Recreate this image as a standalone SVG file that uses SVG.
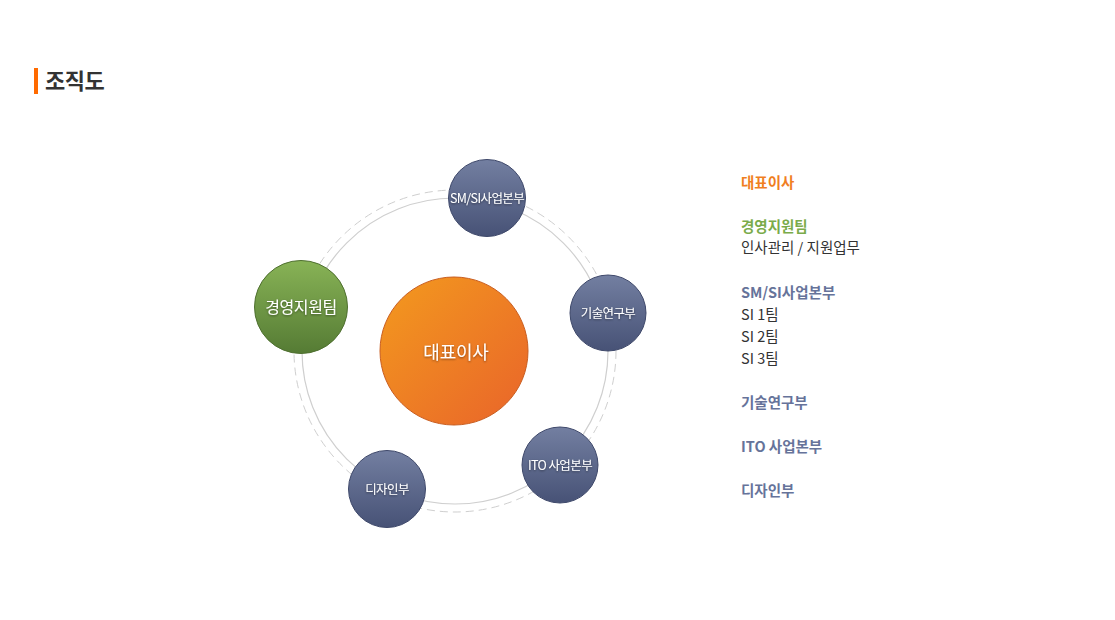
<svg xmlns="http://www.w3.org/2000/svg" width="1115" height="620" viewBox="0 0 1115 620">
<defs>
<linearGradient id="gBlue" x1="0" y1="0" x2="0" y2="1"><stop offset="0" stop-color="#737fa1"/><stop offset="1" stop-color="#475276"/></linearGradient>
<linearGradient id="gGreen" x1="0" y1="0" x2="0" y2="1"><stop offset="0" stop-color="#88b356"/><stop offset="1" stop-color="#557b34"/></linearGradient>
<linearGradient id="gOrange" x1="0" y1="0" x2="1" y2="1"><stop offset="0" stop-color="#f39a1e"/><stop offset="1" stop-color="#e9642a"/></linearGradient>
<filter id="ts" x="-20%" y="-50%" width="140%" height="200%"><feDropShadow dx="0" dy="1" stdDeviation="1" flood-color="#000" flood-opacity="0.45"/></filter>
</defs>
<style>
.t{font-family:"Noto Sans CJK KR","Noto Sans",sans-serif}
.node text{fill:#fff;text-anchor:middle;filter:url(#ts)}
.sat{fill:url(#gBlue);stroke:#3e486a;stroke-width:1}
.lbl{font-size:12.5px;letter-spacing:-0.6px}
.side{font-size:14.5px}
.b{font-weight:bold}
</style>
<rect width="1115" height="620" fill="#fff"/>
<rect x="34" y="68" width="4" height="26" fill="#ff6a00"/>
<text class="t b" x="45" y="89" font-size="22" fill="#333" letter-spacing="-0.5">조직도</text>
<g id="connectors" fill="none" stroke="#cfcfcf">
<circle cx="455" cy="351" r="153" stroke-width="1.2"/>
<circle cx="455" cy="351" r="161" stroke-width="1" stroke-dasharray="8 5"/>
</g>
<g id="n-ceo" class="node t">
<circle cx="454" cy="351" r="74" fill="url(#gOrange)" stroke="#c95d1f" stroke-width="1"/>
<text x="456" y="359" font-size="18" letter-spacing="-0.2">대표이사</text>
</g>
<g id="n-smsi" class="node t">
<circle class="sat" cx="487" cy="198" r="38.5"/>
<text class="lbl" x="487" y="203" letter-spacing="-0.9">SM/SI사업본부</text>
</g>
<g id="n-tech" class="node t">
<circle class="sat" cx="608" cy="313" r="38"/>
<text class="lbl" x="608" y="318">기술연구부</text>
</g>
<g id="n-ito" class="node t">
<circle class="sat" cx="560" cy="465" r="38"/>
<text class="lbl" x="560" y="470">ITO 사업본부</text>
</g>
<g id="n-design" class="node t">
<circle class="sat" cx="387" cy="489" r="38.5"/>
<text class="lbl" x="387" y="494">디자인부</text>
</g>
<g id="n-mgmt" class="node t">
<circle cx="301" cy="307" r="46.5" fill="url(#gGreen)" stroke="#4f7030" stroke-width="1"/>
<text x="301" y="313" font-size="16" letter-spacing="-0.4">경영지원팀</text>
</g>
<g id="legend" class="t side">
<text class="b" x="741" y="188" fill="#f07f1f">대표이사</text>
<text class="b" x="741" y="232" fill="#7aab4a">경영지원팀</text>
<text x="741" y="253" fill="#333">인사관리 / 지원업무</text>
<text class="b" x="741" y="298" fill="#66739a">SM/SI사업본부</text>
<text x="741" y="320" fill="#333">SI 1팀</text>
<text x="741" y="342" fill="#333">SI 2팀</text>
<text x="741" y="364" fill="#333">SI 3팀</text>
<text class="b" x="741" y="408" fill="#66739a">기술연구부</text>
<text class="b" x="741" y="452" fill="#66739a">ITO 사업본부</text>
<text class="b" x="741" y="496" fill="#66739a">디자인부</text>
</g>
</svg>
